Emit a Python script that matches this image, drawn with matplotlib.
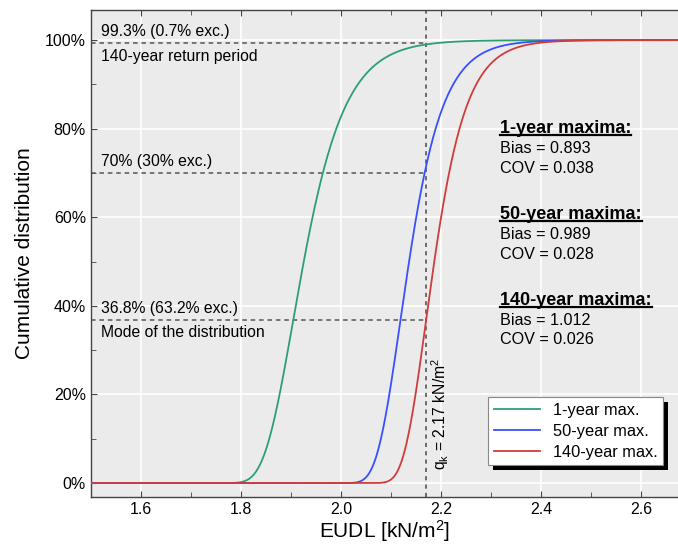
import numpy as np
import matplotlib
matplotlib.use("Agg")
import matplotlib.pyplot as plt
from matplotlib.ticker import MultipleLocator, PercentFormatter
from matplotlib.lines import Line2D
from matplotlib.patches import Rectangle

plt.rcParams['font.family'] = ['Liberation Sans', 'DejaVu Sans']
plt.rcParams['mathtext.fontset'] = 'custom'
plt.rcParams['mathtext.rm'] = 'Liberation Sans'
plt.rcParams['mathtext.it'] = 'Liberation Sans:italic'

# characteristic value and statistics of the maxima (from the figure)
q_k = 2.17
labels = ['1-year max.', '50-year max.', '140-year max.']
titles = ['1-year maxima:', '50-year maxima:', '140-year maxima:']
bias = [0.893, 0.989, 1.012]
cov = [0.038, 0.028, 0.026]
colors = ['#2e9f72', '#3a50ff', '#d03c3c']

# reference levels marked with dashed lines
ref_levels = [0.993, 0.70, 0.368]
ref_top = ['99.3% (0.7% exc.)', '70% (30% exc.)', '36.8% (63.2% exc.)']
ref_bottom = ['140-year return period', '', 'Mode of the distribution']


def gumbel_cdf(x, mean, std):
    beta = std * np.sqrt(6) / np.pi
    mu = mean - 0.5772156649 * beta
    return np.exp(-np.exp(-(x - mu) / beta))


fig = plt.figure(figsize=(6.78, 5.46), dpi=100)
ax = fig.add_axes([0.134, 0.0897, 0.866, 0.892])
ax.set_facecolor('#ebebeb')
ax.grid(True, which='major', color='white', lw=1.2)
ax.set_axisbelow(True)

x = np.linspace(1.5, 2.7, 800)
for lab, b, c, col in zip(labels, bias, cov, colors):
    mean = b * q_k
    ax.plot(x, gumbel_cdf(x, mean, c * mean), color=col, lw=1.3, label=lab, zorder=3)

dash = (0, (3, 2.5))
ax.axvline(q_k, color='#555555', lw=1.2, ls=(0, (2.5, 2.5)), zorder=2)
for lvl, t1, t2 in zip(ref_levels, ref_top, ref_bottom):
    ax.plot([1.5, q_k], [lvl, lvl], color='#555555', lw=1.1, ls=dash, zorder=2)
    ax.text(1.52, lvl + 0.01, t1, fontsize=11.3, va='bottom', ha='left')
    if t2:
        ax.text(1.52, lvl - 0.012, t2, fontsize=11.3, va='top', ha='left')

ax.text(q_k + 0.028, 0.03, r'$\mathrm{q_k}$ = 2.17 kN/m$^2$', rotation=90,
        fontsize=11.3, ha='center', va='bottom')

# statistics blocks
head_y = [0.801, 0.607, 0.413]
heads = []
for t, hy, b, c in zip(titles, head_y, bias, cov):
    h = ax.text(2.318, hy, t, fontsize=13, fontweight='bold', va='center', ha='left')
    heads.append(h)
    ax.text(2.318, hy - 0.045, f'Bias = {b:.3f}', fontsize=11.6, va='center', ha='left')
    ax.text(2.318, hy - 0.090, f'COV = {c:.3f}', fontsize=11.6, va='center', ha='left')

ax.set_xlim(1.5, 2.674)
ax.set_ylim(-0.0316, 1.068)
ax.xaxis.set_major_locator(MultipleLocator(0.2))
ax.xaxis.set_minor_locator(MultipleLocator(0.1))
ax.yaxis.set_major_locator(MultipleLocator(0.2))
ax.yaxis.set_minor_locator(MultipleLocator(0.1))
ax.yaxis.set_major_formatter(PercentFormatter(1.0, decimals=0))
ax.tick_params(which='both', direction='in', top=True, right=False,
               labelsize=11.5, color='#444444')
ax.tick_params(which='major', length=4.5)
ax.tick_params(which='minor', length=3.5)
for s in ax.spines.values():
    s.set_color('#444444')
    s.set_linewidth(1.0)
ax.spines['right'].set_visible(False)

ax.set_xlabel('EUDL [kN/m$^2$]', fontsize=15, labelpad=1)
ax.set_ylabel('Cumulative distribution', fontsize=15, labelpad=8)

leg = ax.legend(loc='lower right', bbox_to_anchor=(0.975, 0.065), borderaxespad=0,
                fontsize=11.8, fancybox=False, framealpha=1, edgecolor='#888888',
                handlelength=2.8, borderpad=0.35, labelspacing=0.35)
leg.get_frame().set_linewidth(0.8)
leg.set_zorder(6)

fig.canvas.draw()

# solid black drop shadow behind the legend frame
inv_ax = ax.transAxes.inverted()
fb = leg.get_frame().get_window_extent()
(sx0, sy0), (sx1, sy1) = inv_ax.transform([(fb.x0 + 5, fb.y0 - 5), (fb.x1 + 5, fb.y1 - 5)])
ax.add_patch(Rectangle((sx0, sy0), sx1 - sx0, sy1 - sy0, facecolor='black',
                       edgecolor='none', transform=ax.transAxes, zorder=5))

# underline the block titles
inv = fig.transFigure.inverted()
for h in heads:
    bb = h.get_window_extent()
    (x0, y0), (x1, _) = inv.transform([(bb.x0, bb.y0 + 1.5), (bb.x1, bb.y0)])
    fig.add_artist(Line2D([x0, x1], [y0, y0], color='black', lw=1.6,
                          transform=fig.transFigure))

fig.savefig('out.png', dpi=100)
